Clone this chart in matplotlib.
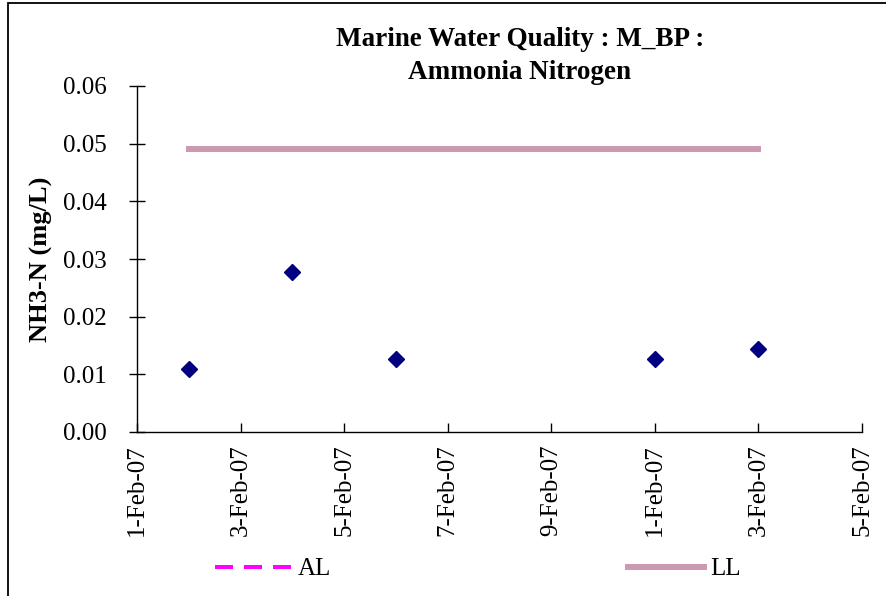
import datetime as dt
import matplotlib
matplotlib.use("Agg")
import matplotlib.pyplot as plt
from matplotlib.patches import Rectangle

plt.rcParams['font.family'] = ['Liberation Serif', 'DejaVu Serif']

# sample dates and measured ammonia nitrogen (mg/L)
sample_dates = [dt.datetime(2007, 2, 2), dt.datetime(2007, 2, 4), dt.datetime(2007, 2, 6),
                dt.datetime(2007, 2, 11), dt.datetime(2007, 2, 13)]
nh3n = [0.011, 0.0277, 0.0127, 0.0127, 0.0144]

# limit level line
ll_dates = [dt.datetime(2007, 2, 2), dt.datetime(2007, 2, 13)]
ll_values = [0.049, 0.049]

tick_dates = [dt.datetime(2007, 2, d) for d in range(1, 16, 2)]
tick_labels = ['1-Feb-07', '3-Feb-07', '5-Feb-07', '7-Feb-07', '9-Feb-07',
               '1-Feb-07', '3-Feb-07', '5-Feb-07']
y_ticks = [0.00, 0.01, 0.02, 0.03, 0.04, 0.05, 0.06]

fig = plt.figure(figsize=(8.87, 5.96), dpi=100)
ax = fig.add_axes([137/887, 1 - 432/596, (862 - 137)/887, (432 - 86)/596])

ax.plot(ll_dates, ll_values, color='#cc99b2', lw=4.3, solid_capstyle='projecting', label='LL')
ax.plot([], [], color='#ff00ff', lw=2.9, ls=(0, (4.47, 2.73)), label='AL')
ax.plot(sample_dates, nh3n, ls='none', marker='D', markersize=8.5, color='#000080')

ax.set_xlim(dt.datetime(2007, 2, 1), dt.datetime(2007, 2, 15))
ax.set_ylim(0, 0.06)
ax.set_xticks(tick_dates)
ax.set_xticklabels(tick_labels, rotation=90, fontsize=18)
ax.set_yticks(y_ticks)
ax.set_yticklabels([f'{v:.2f}' for v in y_ticks], fontsize=18)
ax.tick_params(axis='x', direction='in', length=6.5, width=1, pad=9)
ax.tick_params(axis='y', direction='inout', length=12, width=1, pad=15.5)

for side in ['top', 'right']:
    ax.spines[side].set_visible(False)
for side in ['left', 'bottom']:
    ax.spines[side].set_linewidth(1)

ax.set_ylabel('NH3-N (mg/L)', fontsize=19, fontweight='bold')
ax.yaxis.set_label_coords(-0.116, 0.5)

fig.text(520/887, 1 - 56/596, 'Marine Water Quality : M_BP :\nAmmonia Nitrogen',
         ha='center', va='center', fontsize=19.5, fontweight='bold', linespacing=1.42)

handles, labels = ax.get_legend_handles_labels()
order = [1, 0]
fig.legend([handles[i] for i in order], [labels[i] for i in order],
           loc='center', bbox_to_anchor=(478/887, 1 - 569/596), ncol=2, frameon=False,
           fontsize=18, handlelength=3.05, handletextpad=0.25, columnspacing=11.9)

# outer chart border (left and top edges visible)
fig.patches.append(Rectangle((8/887, -0.1), 1.2, 1.1 - 3/596, transform=fig.transFigure,
                             fill=False, edgecolor='black', lw=1.3, clip_on=False))

fig.savefig('out.png', dpi=100)
